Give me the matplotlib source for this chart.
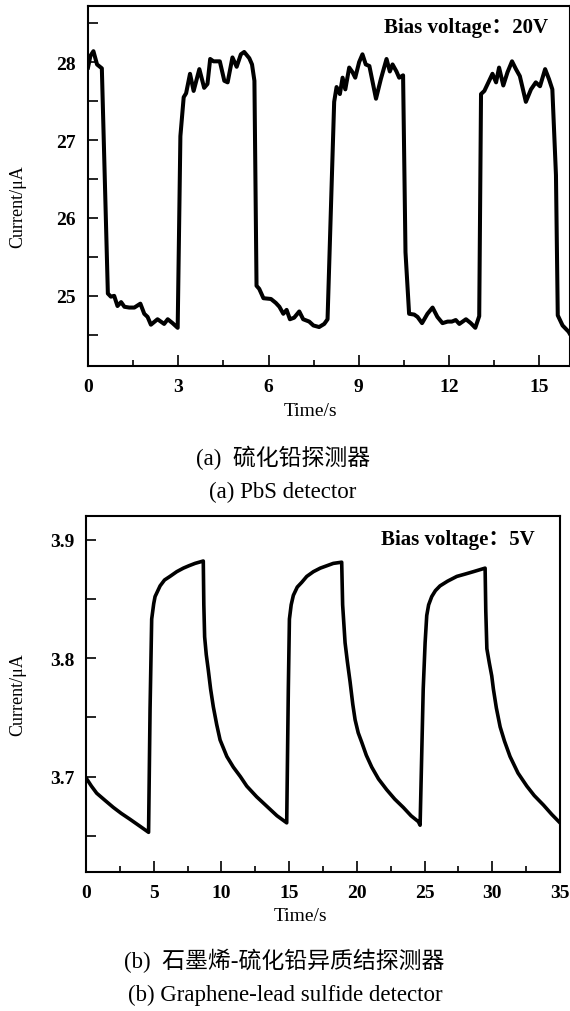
import matplotlib
matplotlib.use("Agg")
import matplotlib.pyplot as plt
from matplotlib.ticker import MultipleLocator

# ---- data: (a) PbS detector, bias 20 V ----
time_a = [0.00, 0.08, 0.18, 0.30, 0.46, 0.66, 0.76, 0.87, 0.98, 1.10, 1.21, 1.37, 1.54,
          1.74, 1.87, 1.98, 2.09, 2.31, 2.53, 2.65, 2.81, 2.98, 3.07, 3.18, 3.26, 3.39,
          3.51, 3.70, 3.86, 3.97, 4.06, 4.17, 4.38, 4.53, 4.64, 4.80, 4.94, 5.08, 5.19,
          5.36, 5.45, 5.53, 5.60, 5.69, 5.83, 6.08, 6.24, 6.36, 6.49, 6.60, 6.71, 6.85,
          7.02, 7.15, 7.35, 7.49, 7.68, 7.85, 7.96, 8.18, 8.26, 8.37, 8.46, 8.55, 8.68,
          8.79, 8.88, 9.01, 9.12, 9.23, 9.35, 9.57, 9.73, 9.92, 10.03, 10.12, 10.25,
          10.34, 10.47, 10.55, 10.67, 10.84, 10.95, 11.10, 11.28, 11.45, 11.61, 11.78,
          11.95, 12.09, 12.22, 12.34, 12.56, 12.72, 12.87, 13.00, 13.06, 13.17, 13.33,
          13.44, 13.56, 13.66, 13.80, 13.94, 14.09, 14.22, 14.35, 14.55, 14.72, 14.88,
          15.02, 15.19, 15.32, 15.43, 15.55, 15.61, 15.77, 15.97, 16.00]
current_a = [27.93, 28.08, 28.14, 27.97, 27.92, 25.03, 24.99, 25.00, 24.87, 24.92, 24.86,
             24.85, 24.85, 24.90, 24.77, 24.73, 24.63, 24.70, 24.64, 24.70, 24.65, 24.59,
             27.05, 27.55, 27.60, 27.85, 27.63, 27.91, 27.67, 27.72, 28.04, 28.01, 28.01,
             27.76, 27.74, 28.06, 27.94, 28.10, 28.13, 28.05, 27.97, 27.76, 25.13, 25.09,
             24.97, 24.96, 24.91, 24.86, 24.77, 24.82, 24.70, 24.72, 24.80, 24.70, 24.67,
             24.62, 24.60, 24.64, 24.70, 27.49, 27.68, 27.59, 27.80, 27.65, 27.93, 27.87,
             27.80, 28.00, 28.10, 27.97, 27.95, 27.53, 27.78, 28.04, 27.88, 27.97, 27.88,
             27.80, 27.83, 25.56, 24.77, 24.76, 24.73, 24.65, 24.77, 24.85, 24.73, 24.65,
             24.67, 24.67, 24.69, 24.64, 24.70, 24.65, 24.59, 24.74, 27.59, 27.63, 27.76,
             27.85, 27.74, 27.93, 27.70, 27.87, 28.01, 27.91, 27.82, 27.49, 27.65, 27.74,
             27.69, 27.91, 27.78, 27.65, 26.55, 24.75, 24.62, 24.54, 24.52]

# ---- data: (b) graphene-PbS heterojunction detector, bias 5 V ----
time_b = [0.00, 0.40, 0.79, 1.40, 2.02, 2.60, 3.25, 4.00, 4.62,
          4.73, 4.85, 5.00, 5.10, 5.47, 5.80, 6.20, 6.70, 7.19, 7.60, 8.05, 8.66,
          8.70, 8.76, 8.88, 9.03, 9.20, 9.40, 9.65, 9.90, 10.15, 10.40, 10.88, 11.40,
          11.87, 12.60, 13.35, 14.10, 14.82,
          14.94, 15.02, 15.15, 15.31, 15.60, 15.93, 16.30, 16.79, 17.30, 17.78, 18.26,
          18.88, 18.95, 19.13, 19.30, 19.50, 19.70, 19.87, 20.10, 20.36, 20.70, 21.10,
          21.60, 22.20, 22.80, 23.43, 24.00, 24.54, 24.67,
          24.90, 25.04, 25.16, 25.30, 25.53, 25.80, 26.14, 26.70, 27.38, 28.00, 28.60,
          29.47, 29.52, 29.60, 29.78, 29.96, 30.08, 30.30, 30.58, 30.90, 31.31, 31.90,
          32.55, 33.10, 33.78, 34.40, 35.00]
current_b = [3.699, 3.692, 3.686, 3.680, 3.674, 3.669, 3.664, 3.658, 3.653,
             3.757, 3.833, 3.846, 3.852, 3.861, 3.866, 3.869, 3.873, 3.876, 3.878, 3.880, 3.882,
             3.845, 3.818, 3.803, 3.790, 3.774, 3.759, 3.744, 3.731, 3.724, 3.717, 3.708, 3.700,
             3.692, 3.683, 3.675, 3.667, 3.661,
             3.774, 3.833, 3.845, 3.853, 3.860, 3.864, 3.869, 3.873, 3.876, 3.878, 3.880,
             3.881, 3.845, 3.813, 3.797, 3.780, 3.761, 3.748, 3.737, 3.729, 3.718, 3.708,
             3.698, 3.689, 3.681, 3.674, 3.667, 3.662, 3.659,
             3.774, 3.813, 3.836, 3.845, 3.852, 3.857, 3.861, 3.865, 3.869, 3.871, 3.873,
             3.876, 3.840, 3.808, 3.796, 3.785, 3.774, 3.758, 3.742, 3.730, 3.717, 3.703,
             3.692, 3.684, 3.676, 3.668, 3.661]

xticks_a = [0, 3, 6, 9, 12, 15]
yticks_a = [25, 26, 27, 28]
xticks_b = [0, 5, 10, 15, 20, 25, 30, 35]
yticks_b = [3.7, 3.8, 3.9]

bias_a = "Bias voltage\uff1a20V"
bias_b = "Bias voltage\uff1a5V"
cap_a_cn = "(a)  硫化铅探测器"
cap_a_en = "(a) PbS detector"
cap_b_cn = "(b)  石墨烯-硫化铅异质结探测器"
cap_b_en = "(b) Graphene-lead sulfide detector"

SERIF = ["Liberation Serif", "Noto Sans CJK SC"]
plt.rcParams["font.family"] = SERIF

W, H = 570, 1012
fig = plt.figure(figsize=(W / 100, H / 100), dpi=100)


def px_axes(l, t, r, b):
    return fig.add_axes([l / W, 1 - b / H, (r - l) / W, (b - t) / H])


def style(ax, xmaj, xmin, ymaj, ymin, xlim, ylim):
    ax.set_xlim(*xlim)
    ax.set_ylim(*ylim)
    ax.set_xticks(xmaj)
    ax.xaxis.set_minor_locator(MultipleLocator(xmin))
    ax.set_yticks(ymaj)
    ax.yaxis.set_minor_locator(MultipleLocator(ymin))
    for s in ax.spines.values():
        s.set_linewidth(1.5)
    ax.tick_params(axis="x", which="major", direction="in", length=8, width=1.2,
                   pad=9, labelsize=14)
    ax.tick_params(axis="x", which="minor", direction="in", length=4.5, width=1.2)
    ax.tick_params(axis="y", which="major", direction="in", length=7.5, width=1.2,
                   pad=8.5, labelsize=14)
    ax.tick_params(axis="y", which="minor", direction="in", length=7.5, width=1.2)


# ---- panel (a) ----
ax1 = px_axes(88, 7, 569.5, 367)
ax1.plot(time_a, current_a, color="black", lw=2.9, solid_joinstyle="round")
style(ax1, xticks_a, 1.5, yticks_a, 0.5, (0, 16), (24.1, 28.72))
ax1.set_yticklabels([str(v) for v in yticks_a])
ax1.set_xlabel("Time/s", fontsize=14)
ax1.set_ylabel("Current/\u03bcA", fontsize=13)
ax1.xaxis.set_label_coords((310 - 88) / 481.5, (367 - 411) / 360)
ax1.xaxis.label.set_verticalalignment("center")
ax1.yaxis.set_label_coords((17.5 - 88) / 481.5, (367 - 207) / 360)
ax1.yaxis.label.set_verticalalignment("center")
ax1.text((548 - 88) / 481.5, (367 - 28) / 360, bias_a, transform=ax1.transAxes,
         ha="right", va="center", fontsize=15, fontweight="bold", family=SERIF)

# ---- panel (b) ----
ax2 = px_axes(86, 517, 560, 873)
ax2.plot(time_b, current_b, color="black", lw=2.6, solid_joinstyle="round")
style(ax2, xticks_b, 2.5, yticks_b, 0.05, (0, 35), (3.6195, 3.92))
ax2.set_yticklabels([f"{v:.1f}" for v in yticks_b])
ax2.set_xlabel("Time/s", fontsize=14)
ax2.set_ylabel("Current/\u03bcA", fontsize=13)
ax2.xaxis.set_label_coords((301 - 86) / 474, (873 - 917) / 356)
ax2.xaxis.label.set_verticalalignment("center")
ax2.yaxis.set_label_coords((17.5 - 86) / 474, 0.5)
ax2.yaxis.label.set_verticalalignment("center")
ax2.text((535 - 86) / 474, (873 - 540) / 356, bias_b, transform=ax2.transAxes,
         ha="right", va="center", fontsize=15, fontweight="bold", family=SERIF)

for ax in (ax1, ax2):
    for lab in ax.get_xticklabels() + ax.get_yticklabels():
        lab.set_fontweight("bold")

# ---- captions ----
fig.text(283 / W, 1 - 458 / H, cap_a_cn, ha="center", va="center", fontsize=16.5, family=SERIF)
fig.text(283 / W, 1 - 492 / H, cap_a_en, ha="center", va="center", fontsize=16.5, family=SERIF)
fig.text(284 / W, 1 - 961 / H, cap_b_cn, ha="center", va="center", fontsize=16.5, family=SERIF)
fig.text(285 / W, 1 - 995 / H, cap_b_en, ha="center", va="center", fontsize=16.5, family=SERIF)

fig.savefig("out.png", dpi=100)
